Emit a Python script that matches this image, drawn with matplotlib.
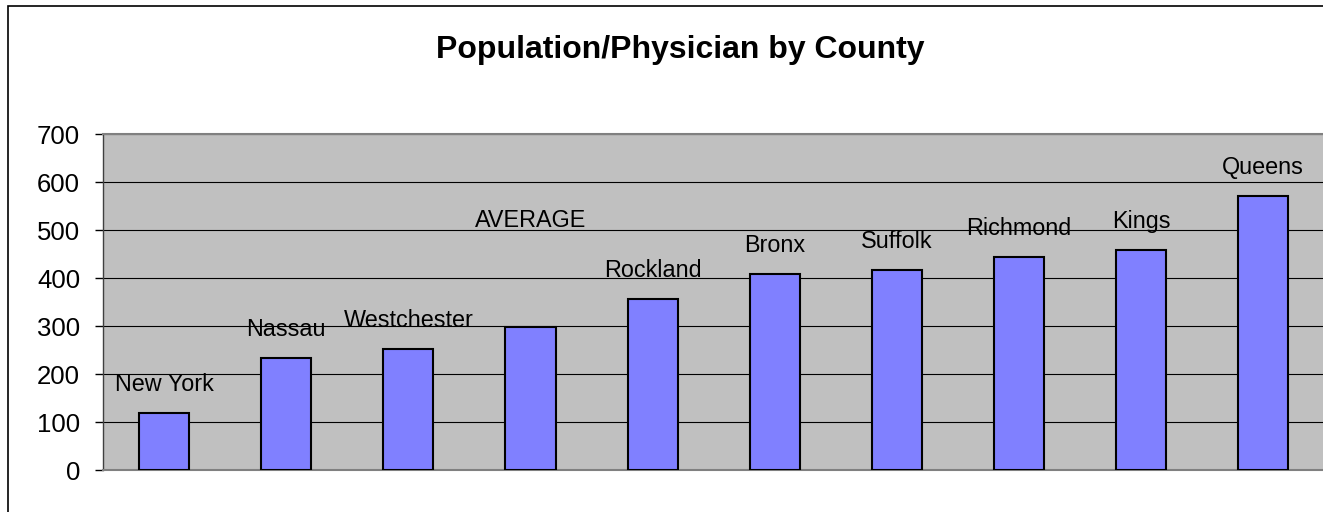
import matplotlib
matplotlib.use("Agg")
import matplotlib.pyplot as plt
from matplotlib.patches import Rectangle

plt.rcParams['font.family'] = ['Liberation Sans', 'DejaVu Sans']

counties = ["New York", "Nassau", "Westchester", "AVERAGE", "Rockland",
            "Bronx", "Suffolk", "Richmond", "Kings", "Queens"]
values = [118, 233, 252, 297, 356, 408, 416, 444, 458, 571]
yticks = [0, 100, 200, 300, 400, 500, 600, 700]
title = "Population/Physician by County"

W, H = 1323, 512
fig = plt.figure(figsize=(W / 100, H / 100), dpi=100)
ax = fig.add_axes([103 / W, 1 - 470 / H, (W - 103) / W + 0.001, (470 - 134) / H])

ax.set_facecolor("#C0C0C0")
x = list(range(len(counties)))
ax.bar(x, values, width=0.41, color="#8080FF", edgecolor="black", linewidth=1.5, zorder=3)

ax.set_xlim(-0.5, len(counties) - 0.5)
ax.set_ylim(0, 700)
ax.set_yticks(yticks)
ax.set_yticklabels([str(t) for t in yticks], fontsize=18.5)
ax.set_xticks([])
ax.tick_params(axis="y", length=6, width=1, color="black", pad=10.5)
ax.yaxis.grid(True, color="black", linewidth=0.8)
ax.set_axisbelow(True)

for name, sp in ax.spines.items():
    sp.set_color("#808080")
    sp.set_linewidth(1.5)
ax.spines["left"].set_color("#404040")
ax.spines["left"].set_linewidth(1.0)
ax.spines["right"].set_visible(False)

for xi, (name, v) in enumerate(zip(counties, values)):
    off = 72 if name == "AVERAGE" else 16
    ax.annotate(name, (xi, v), xytext=(0, off), textcoords="offset points",
                ha="center", va="baseline", fontsize=16.8, color="black", zorder=4)

fig.text(680 / W, 1 - 50 / H, title, ha="center", va="center",
         fontsize=23, fontweight="bold")

border = Rectangle((8 / W, -0.1), 1.2, 1 - 6 / H + 0.1, transform=fig.transFigure,
                   fill=False, edgecolor="black", linewidth=1.2, clip_on=False)
fig.patches.append(border)

fig.savefig("out.png", dpi=100)
